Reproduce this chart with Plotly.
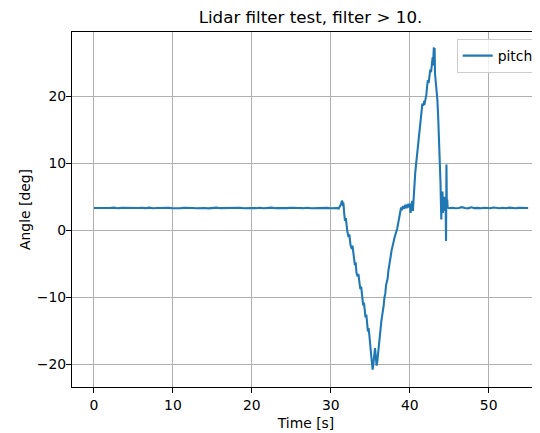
import plotly.graph_objects as go

# Time [s] and pitch [deg]
time_s = [
    0.0, 0.5, 1.0, 1.5, 2.0, 2.5, 3.0, 3.5, 4.0, 4.5, 5.0, 5.5, 6.0, 6.5, 7.0, 7.5,
    8.0, 8.5, 9.0, 9.5, 10.0, 10.5, 11.0, 11.5, 12.0, 12.5, 13.0, 13.5, 14.0, 14.5,
    15.0, 15.5, 16.0, 16.5, 17.0, 17.5, 18.0, 18.5, 19.0, 19.5, 20.0, 20.5, 21.0,
    21.5, 22.0, 22.5, 23.0, 23.5, 24.0, 24.5, 25.0, 25.5, 26.0, 26.5, 27.0, 27.5,
    28.0, 28.5, 29.0, 29.5, 30.0, 30.4,
    30.8, 31.0, 31.15, 31.3, 31.4, 31.5, 31.55, 31.6, 31.7, 31.8, 31.9, 32.0, 32.1,
    32.25, 32.35, 32.5, 32.65, 32.75, 32.9, 33.05, 33.15, 33.25, 33.4, 33.5, 33.65,
    33.75, 33.85, 33.95, 34.1, 34.2, 34.3, 34.4, 34.5, 34.6, 34.7, 34.8, 34.9, 35.0,
    35.1, 35.2, 35.3, 35.4, 35.5, 35.6, 35.7, 35.8, 35.9, 36.0, 36.1, 36.2, 36.3,
    36.4, 36.5, 36.6, 36.7, 36.8, 36.9, 37.0, 37.1, 37.2, 37.3, 37.4, 37.5, 37.6,
    37.7, 37.8, 37.9, 38.05, 38.2, 38.3, 38.4, 38.5, 38.6, 38.7, 38.8, 38.9, 39.0,
    39.15, 39.3, 39.45, 39.6, 39.75, 39.9, 40.0, 40.1, 40.2, 40.3, 40.4, 40.5, 40.6,
    40.7, 40.8, 40.9, 41.0, 41.1, 41.2, 41.3, 41.4, 41.5, 41.6, 41.7, 41.8, 41.9,
    42.0, 42.1, 42.2, 42.3, 42.4, 42.5, 42.6, 42.7, 42.8, 42.9, 42.95, 43.0, 43.05,
    43.1, 43.15, 43.2, 43.3, 43.4, 43.5, 43.6, 43.7, 43.8, 43.9, 43.95, 44.0, 44.05,
    44.1, 44.15, 44.2, 44.25, 44.3, 44.35, 44.4, 44.5, 44.55, 44.6, 44.65, 44.7,
    44.75, 44.8,
    45.0, 45.4, 45.8, 46.2, 46.6, 47.0, 47.4, 47.8, 48.2, 48.6, 49.0, 49.4, 49.8,
    50.2, 50.6, 51.0, 51.4, 51.8, 52.2, 52.6, 53.0, 53.4, 53.8, 54.2, 54.6, 55.0,
]

pitch_deg = [
    3.32, 3.30, 3.36, 3.28, 3.33, 3.38, 3.29, 3.34, 3.31, 3.37, 3.27, 3.33, 3.35, 3.30,
    3.38, 3.29, 3.32, 3.36, 3.30, 3.34, 3.28, 3.35, 3.31, 3.37, 3.30, 3.33, 3.29, 3.36,
    3.32, 3.27, 3.34, 3.38, 3.30, 3.33, 3.29, 3.35, 3.31, 3.37, 3.28, 3.34, 3.32, 3.30,
    3.36, 3.29, 3.33, 3.38, 3.30, 3.27, 3.34, 3.31, 3.36, 3.29, 3.33, 3.30, 3.37, 3.28,
    3.32, 3.35, 3.30, 3.34, 3.28, 3.33,
    3.3, 3.25, 3.5, 3.9, 4.4, 4.2, 3.6, 4.1, 2.5, 1.4, 1.8, 0.6, -0.2,
    -1.0, -0.6, -2.2, -2.8, -2.3, -4.0, -5.2, -4.8, -6.3, -6.9, -6.5, -8.0,
    -8.8, -8.4, -10.0, -11.2, -10.8, -12.4, -13.0, -12.6, -14.2, -15.1, -14.6, -16.3, -17.5,
    -18.4, -19.6, -20.8, -19.9, -18.0, -17.6, -18.8, -20.2, -19.5, -18.0, -16.5, -15.8, -14.8,
    -13.6, -12.9, -11.8, -11.2, -10.0, -9.5, -8.2, -7.6, -7.2, -6.0, -5.4, -4.6, -3.8,
    -3.0, -2.6, -2.0, -1.2, -0.7, -0.2, 0.2, 0.8, 1.4, 2.0, 2.8, 3.4, 3.0,
    3.6, 3.2, 3.8, 3.3, 3.9, 3.4, 4.0, 2.6, 3.7, 4.4, 2.9, 5.6, 7.2,
    8.6, 9.8, 11.0, 12.2, 13.6, 15.0, 16.2, 17.6, 18.4, 18.9, 18.6, 19.1, 19.0,
    19.5, 20.2, 21.5, 22.4, 22.0, 23.2, 24.0, 23.6, 25.0, 25.8, 24.6, 26.6, 27.3,
    25.0, 27.2, 23.4, 22.2, 21.8, 19.5, 17.0, 14.2, 11.0, 7.0, 4.0, 1.6, 5.5,
    3.0, 5.8, 2.6, 4.8, 3.4, 5.0, 2.9, 4.2, 3.0, -1.6, 9.8, 3.2,
    4.6, 3.4,
    3.30, 3.36, 3.28, 3.33, 3.45, 3.31, 3.27, 3.42, 3.30, 3.34, 3.29, 3.36, 3.31,
    3.28, 3.40, 3.32, 3.29, 3.35, 3.30, 3.38, 3.31, 3.28, 3.34, 3.30, 3.36, 3.32,
]

x_ticks = [0, 10, 20, 30, 40, 50]
y_ticks = [-20, -10, 0, 10, 20]

FONT = "DejaVu Sans"

fig = go.Figure()
fig.add_trace(go.Scatter(
    x=time_s, y=pitch_deg, mode="lines", name="pitch",
    line=dict(color="#1f77b4", width=2.08),
))

axis_common = dict(
    showgrid=True, gridcolor="#b0b0b0", gridwidth=1.1,
    showline=True, linecolor="black", linewidth=1.1,
    ticks="outside", ticklen=5, tickwidth=1.1, tickcolor="black",
    tickfont=dict(family=FONT, size=13.9, color="black"),
    zeroline=False,
)

# The page body adds an 8 px offset, so the figure is 8 px smaller on each axis
fig.update_layout(
    width=532, height=425,
    margin=dict(l=64, r=0, t=24, b=46, autoexpand=False),
    paper_bgcolor="white", plot_bgcolor="white",
    font=dict(family=FONT, size=13.9, color="black"),
    title=dict(text="Lidar filter test, filter > 10.", x=0.5096, xref="paper",
               xanchor="center", y=1 - 9 / 425, yref="container", yanchor="middle",
               font=dict(family=FONT, size=16.7, color="black")),
    xaxis=dict(range=[-2.78, 56.5], tickvals=x_ticks, mirror=True,
               title=dict(text="Time [s]", standoff=6,
                          font=dict(family=FONT, size=13.9, color="black")),
               **axis_common),
    yaxis=dict(range=[-23.4, 29.6], tickvals=y_ticks, mirror=False,
               ticklabelstandoff=-3,
               title=dict(text="Angle [deg]", standoff=2,
                          font=dict(family=FONT, size=13.9, color="black")),
               **axis_common),
    showlegend=True,
    legend=dict(x=0.822, y=0.98, xanchor="left", yanchor="top",
                bgcolor="rgba(255,255,255,0.8)", bordercolor="#cccccc", borderwidth=1,
                font=dict(family=FONT, size=13.9, color="black")),
)

fig.write_html("out.html")
